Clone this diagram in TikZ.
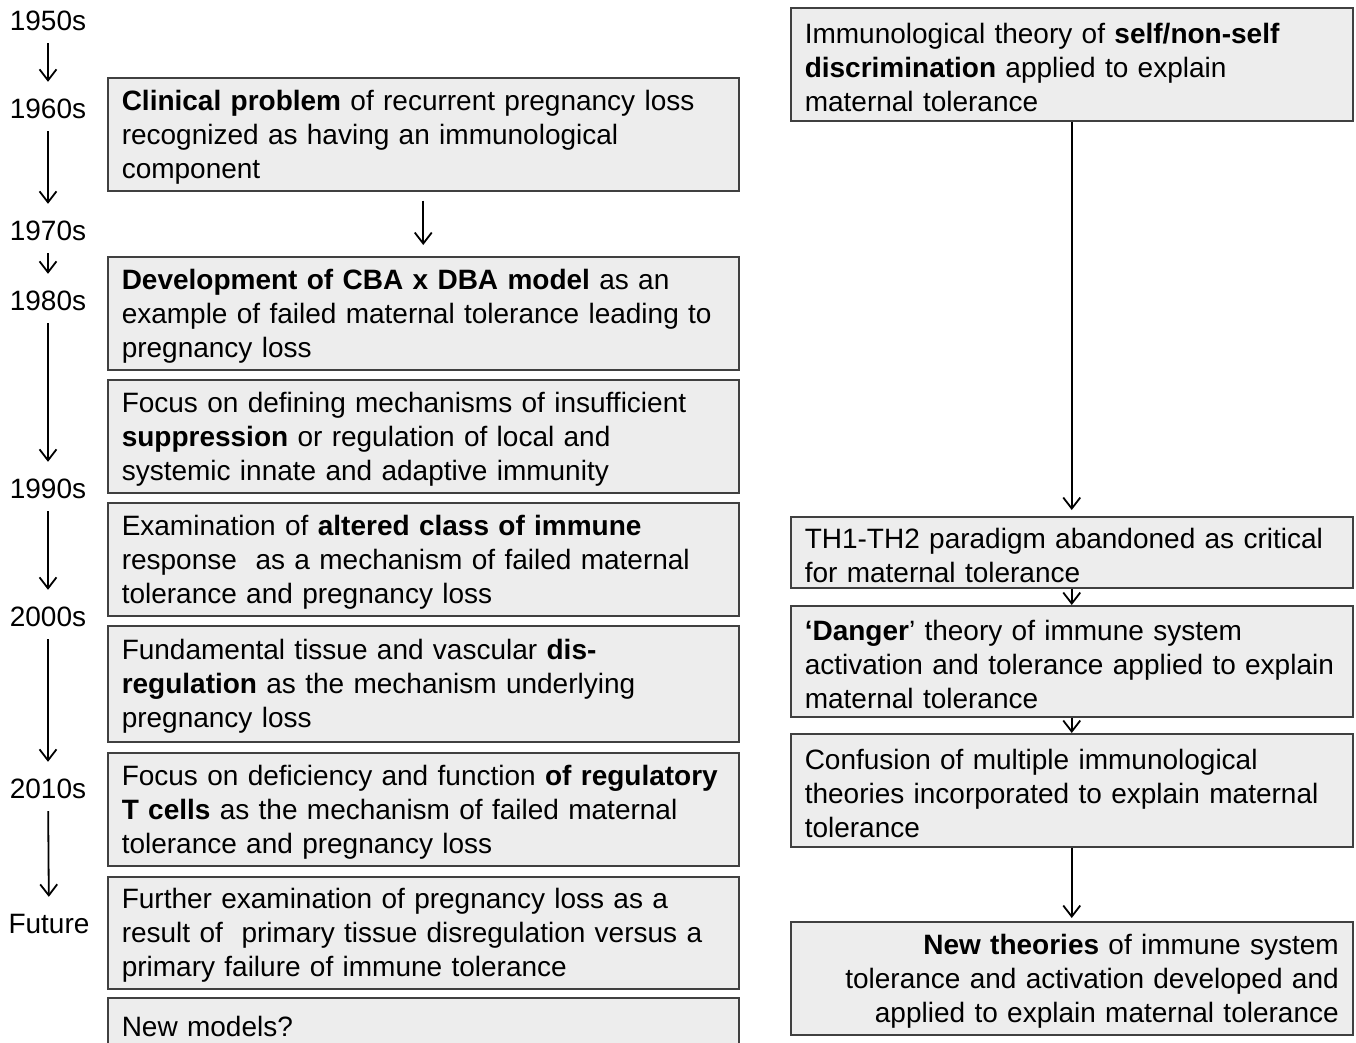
\documentclass[tikz,border=0pt]{standalone}
\usepackage{fontspec}
\setmainfont{Liberation Sans}
\usetikzlibrary{positioning,arrows.meta}
\tikzset{
	box/.style={draw=black!75, line width=1.5pt, fill=black!7, anchor=north west, align=left,
		inner xsep=14pt, inner ysep=0pt, font=\fontsize{28}{34}\selectfont,
		execute at begin node={\rule{0pt}{26pt}}},
	lbox/.style={box, text width=603pt, minimum height=113pt},
	rbox/.style={box, text width=534pt},
	yr/.style={inner sep=0pt, text height=20pt, text depth=0pt, font=\fontsize{28}{34}\selectfont},
	arr/.style={line width=1.8pt, -{Straight Barb[length=11pt,width=17pt]}}
}

\begin{document}
\begin{tikzpicture}[x=1pt,y=-1pt]
	\def\xL{107};
	\def\xR{790};
	\def\xT{48};
\useasboundingbox (0,0) rectangle (1356,1042);
\clip (0,0) rectangle (1356,1042);

%Decennies
\node[yr] (y50) at (\xT,20) {1950s};
\node[yr] (y60) at (\xT,108) {1960s};
\node[yr] (y70) at (\xT,230) {1970s};
\node[yr] (y80) at (\xT,300) {1980s};
\node[yr] (y90) at (\xT,488) {1990s};
\node[yr] (y00) at (\xT,616) {2000s};
\node[yr] (y10) at (\xT,788) {2010s};
\node[yr] (yfu) at (\xT+1,923) {Future};

%Fleches du temps
\foreach \a/\b in {y50/y60,y60/y70,y70/y80,y80/y90,y90/y00,y00/y10,y10/yfu}
	\draw[arr, shorten <=13pt, shorten >=16pt] (\a) -- (\b);

%Colonne de gauche
\node[lbox] (b1) at (\xL,77) {\textbf{Clinical problem} of recurrent pregnancy loss\\recognized as having an immunological\\component};
\node[lbox] (b2) at (\xL,256) {\textbf{Development of CBA x DBA model} as an\\example of failed maternal tolerance leading to\\pregnancy loss};
\node[lbox] (b3) at (\xL,379) {Focus on defining mechanisms of insufficient\\\textbf{suppression} or regulation of local and\\systemic innate and adaptive immunity};
\node[lbox] (b4) at (\xL,502) {Examination of \textbf{altered class of immune}\\response~ as a mechanism of failed maternal\\tolerance and pregnancy loss};
\node[lbox, minimum height=116pt] (b5) at (\xL,625) {Fundamental tissue and vascular \textbf{dis-}\\\textbf{regulation} as the mechanism underlying\\pregnancy loss};
\node[lbox] (b6) at (\xL,752) {Focus on deficiency and function \textbf{of regulatory}\\\textbf{T cells} as the mechanism of failed maternal\\tolerance and pregnancy loss};
\node[lbox, minimum height=112pt] (b7) at (\xL,876) {Further examination of pregnancy loss as a\\result of~ primary tissue disregulation versus a\\primary failure of immune tolerance};
\node[lbox, minimum height=52pt] (b8) at (\xL,997) {New models?};

\draw[arr, shorten <=9pt, shorten >=11pt] (b1) -- (b2);

%Colonne de droite
\node[rbox, minimum height=113pt] (r1) at (\xR,7) {Immunological theory of \textbf{self/non-self}\\\textbf{discrimination} applied to explain\\maternal tolerance};
\node[rbox, minimum height=71pt] (r2) at (\xR,516) {TH1-TH2 paradigm abandoned as critical\\for maternal tolerance};
\node[rbox, minimum height=111pt] (r3) at (\xR,605) {\textbf{‘Danger}’ theory of immune system\\activation and tolerance applied to explain\\maternal tolerance};
\node[rbox, minimum height=113pt] (r4) at (\xR,733) {Confusion of multiple immunological\\theories incorporated to explain maternal\\tolerance};
\node[rbox, minimum height=113pt, align=right] (r5) at (\xR,921) {\textbf{New theories} of immune system\\tolerance and activation developed and\\applied to explain maternal tolerance};

\draw[arr, shorten >=6pt] (r1) -- (r2);
\draw[arr] (r2) -- (r3);
\draw[arr] (r3) -- (r4);
\draw[arr, shorten >=3pt] (r4) -- (r5);

\end{tikzpicture}
\end{document}
